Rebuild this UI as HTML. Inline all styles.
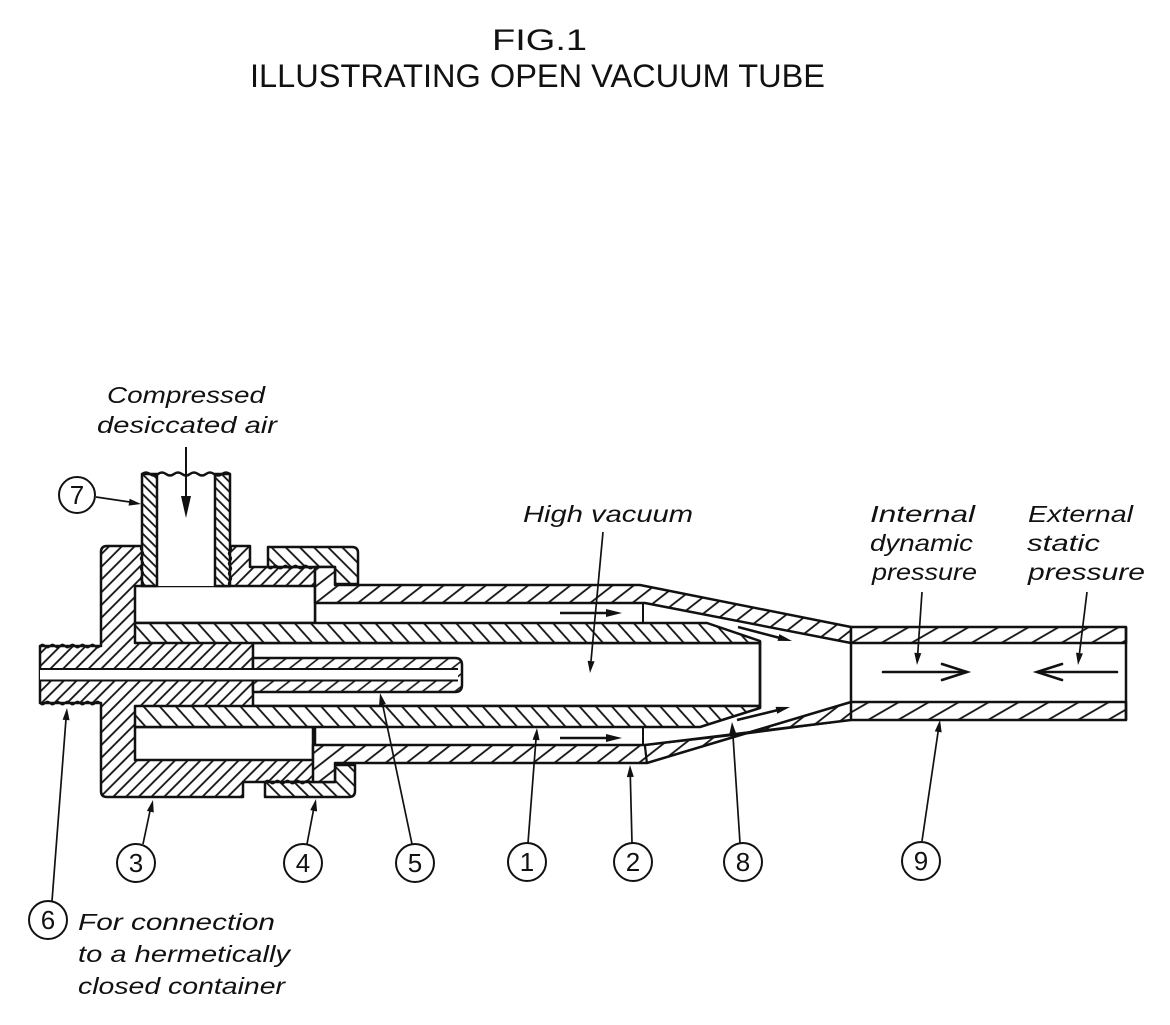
<!DOCTYPE html>
<html>
<head>
<meta charset="utf-8">
<style>
  html,body{margin:0;padding:0;background:#fff;}
  svg{display:block;}
  text{font-family:"Liberation Sans", sans-serif; fill:#111;}
  .lbl{font-style:italic;font-size:23px;}
  .num{font-size:26px;text-anchor:middle;}
</style>
</head>
<body>
<svg width="1170" height="1025" viewBox="0 0 1170 1025" xmlns="http://www.w3.org/2000/svg">
  <defs>
    <pattern id="pF" width="9" height="9" patternUnits="userSpaceOnUse" patternTransform="rotate(45)">
      <rect width="9" height="9" fill="#fff"/>
      <line x1="4.5" y1="0" x2="4.5" y2="9" stroke="#111" stroke-width="1.8"/>
    </pattern>
    <pattern id="p7" width="7" height="7" patternUnits="userSpaceOnUse" patternTransform="rotate(-45)">
      <rect width="7" height="7" fill="#fff"/>
      <line x1="3.5" y1="0" x2="3.5" y2="7" stroke="#111" stroke-width="1.8"/>
    </pattern>
    <pattern id="pN" width="10" height="10" patternUnits="userSpaceOnUse" patternTransform="rotate(-45)">
      <rect width="10" height="10" fill="#fff"/>
      <line x1="5" y1="0" x2="5" y2="10" stroke="#111" stroke-width="1.8"/>
    </pattern>
    <pattern id="p1" width="12" height="12" patternUnits="userSpaceOnUse" patternTransform="rotate(-42)">
      <rect width="12" height="12" fill="#fff"/>
      <line x1="6" y1="0" x2="6" y2="12" stroke="#111" stroke-width="1.8"/>
    </pattern>
    <pattern id="p2" width="13" height="13" patternUnits="userSpaceOnUse" patternTransform="rotate(52)">
      <rect width="13" height="13" fill="#fff"/>
      <line x1="6.5" y1="0" x2="6.5" y2="13" stroke="#111" stroke-width="1.8"/>
    </pattern>
    <pattern id="p5" width="10" height="10" patternUnits="userSpaceOnUse" patternTransform="rotate(52)">
      <rect width="10" height="10" fill="#fff"/>
      <line x1="5" y1="0" x2="5" y2="10" stroke="#111" stroke-width="1.6"/>
    </pattern>
    <pattern id="p9" width="15" height="15" patternUnits="userSpaceOnUse" patternTransform="rotate(60)">
      <rect width="15" height="15" fill="#fff"/>
      <line x1="7.5" y1="0" x2="7.5" y2="15" stroke="#111" stroke-width="1.8"/>
    </pattern>
  </defs>

  <rect width="1170" height="1025" fill="#fff"/>

  <!-- Title -->
  <text x="492" y="50" font-size="30" textLength="95" lengthAdjust="spacingAndGlyphs">FIG.1</text>
  <text x="250" y="87" font-size="32" textLength="575" lengthAdjust="spacingAndGlyphs">ILLUSTRATING OPEN VACUUM TUBE</text>

  <g stroke="#111" stroke-width="2.5" stroke-linejoin="round">
    <!-- Fitting 3 -->
    <path d="M40,646 H101 V552 Q101,546 107,546 H250 V567 H315 V782 H243 V797 H107 Q101,797 101,791 V703 H40 Z" fill="url(#pF)"/>
    <!-- chambers -->
    <rect x="135" y="586" width="180" height="37" fill="#fff"/>
    <rect x="135" y="727" width="178" height="33" fill="#fff"/>
    <!-- cavity inside tube 1 -->
    <rect x="253" y="643" width="507" height="63" fill="#fff"/>
    <!-- tube 1 -->
    <path d="M135,623 H707 L760,641 V643 H135 Z" fill="url(#p1)"/>
    <path d="M135,706 H760 V708 L700,727 H135 Z" fill="url(#p1)"/>
    <line x1="760" y1="641" x2="760" y2="708"/>
    <!-- nozzle 5 -->
    <path d="M253,658 H455 Q462,658 462,665 V685 Q462,692 455,692 H253 Z" fill="url(#p5)"/>
    <!-- bore -->
    <rect x="40" y="669.5" width="418" height="10.5" fill="#fff" stroke="none"/>
    <line x1="40" y1="669" x2="458" y2="669" stroke-width="2"/>
    <line x1="40" y1="680.5" x2="458" y2="680.5" stroke-width="2"/>

    <!-- Tube 7 -->
    <rect x="157" y="474" width="58" height="112" fill="#fff" stroke="none"/>
    <rect x="142" y="474" width="15" height="112" fill="url(#p7)"/>
    <rect x="215" y="474" width="15" height="112" fill="url(#p7)"/>
    <path d="M142,474 q4,-3 8,0 t8,0 t8,0 t8,0 t8,0 t8,0 t8,0 t8,0 t8,0 t8,0 t8,0" fill="none"/>

    <!-- Nut 4 -->
    <path d="M268,547 H352 Q358,547 358,553 V584 H335 V567 H268 Z" fill="url(#pN)"/>
    <path d="M265,782 H335 V765 H355 V791 Q355,797 349,797 H265 Z" fill="url(#pN)"/>

    <!-- Tube 2 upper + taper -->
    <path d="M315,567 H335 V585 H640 L851,627 V643 L645,603 H315 Z" fill="url(#p2)"/>
    <!-- Tube 2 lower straight -->
    <path d="M313,745 H645 L647,763 H335 V782 H313 Z" fill="url(#p2)"/>
    <!-- lower taper crossing -->
    <path d="M645,745 L743,734 L647,763 Z" fill="url(#p2)" stroke-width="2"/>
    <path d="M743,734 L851,702 L851,720 Z" fill="url(#p2)" stroke-width="2"/>
    <line x1="645" y1="745" x2="851" y2="720"/>
    <line x1="647" y1="763" x2="851" y2="702"/>

    <!-- Tube 9 -->
    <rect x="851" y="627" width="275" height="16" fill="url(#p9)"/>
    <rect x="851" y="702" width="275" height="18" fill="url(#p9)"/>
    <line x1="851" y1="643" x2="851" y2="702"/>
    <line x1="1126" y1="627" x2="1126" y2="720"/>

    <!-- annulus end lines -->
    <line x1="643" y1="603" x2="643" y2="623" stroke-width="2"/>
    <line x1="643" y1="727" x2="643" y2="745" stroke-width="2"/>
  </g>

  <!-- threads -->
  <g fill="none" stroke="#111" stroke-width="1.8">
    <path d="M40,646 q2.5,-3 5,0 t5,0 t5,0 t5,0 t5,0 t5,0 t5,0 t5,0 t5,0 t5,0 t5,0 t5,0"/>
    <path d="M40,703 q2.5,3 5,0 t5,0 t5,0 t5,0 t5,0 t5,0 t5,0 t5,0 t5,0 t5,0 t5,0 t5,0"/>
    <path d="M142,546 q-2.5,2.5 0,5 t0,5 t0,5 t0,5 t0,5 t0,5 t0,5 t0,5"/>
    <path d="M230,546 q2.5,2.5 0,5 t0,5 t0,5 t0,5 t0,5 t0,5 t0,5 t0,5"/>
    <path d="M268,567 q2.5,3 5,0 t5,0 t5,0 t5,0 t5,0 t5,0 t5,0 t5,0 t5,0"/>
    <path d="M265,782 q2.5,-3 5,0 t5,0 t5,0 t5,0 t5,0 t5,0 t5,0 t5,0 t5,0"/>
  </g>

  <!-- flow arrows -->
  <g stroke="#111" stroke-width="2.5" fill="#111">
    <line x1="560" y1="613" x2="612" y2="613"/>
    <polygon points="622,613 606,609 606,617" stroke="none"/>
    <line x1="560" y1="738" x2="612" y2="738"/>
    <polygon points="622,738 606,734 606,742" stroke="none"/>
    <line x1="738" y1="627" x2="780" y2="638"/>
    <polygon points="792,641 777.57,640.88 779.33,634.1" stroke="none"/>
    <line x1="737" y1="720" x2="778" y2="710"/>
    <polygon points="790,707 777.24,713.73 775.58,706.93" stroke="none"/>
    <!-- air arrow -->
    <line x1="186" y1="447" x2="186" y2="508" stroke-width="2"/>
    <polygon points="186,518 181,496 191,496" stroke="none"/>
  </g>
  <!-- tube 9 pressure arrows -->
  <g stroke="#111" stroke-width="2.6" fill="none" stroke-linecap="round">
    <line x1="883" y1="672" x2="966" y2="672"/>
    <polyline points="942,664 967,672 942,680"/>
    <line x1="1038" y1="672" x2="1117" y2="672"/>
    <polyline points="1062,664 1037,672 1062,680"/>
  </g>

  <!-- leaders -->
  <g stroke="#111" stroke-width="1.7" fill="#111">
    <line x1="96" y1="497" x2="130" y2="502"/>
    <polygon points="141,504 128.6,505.6 129.6,498.7" stroke="none"/>
    <line x1="52" y1="901" x2="66" y2="719"/>
    <polygon points="67,708 69.56,720.2 62.58,719.7" stroke="none"/>
    <line x1="143" y1="844" x2="150" y2="811"/>
    <polygon points="153,800 153.76,812.49 146.92,810.93" stroke="none"/>
    <line x1="307" y1="844" x2="313.5" y2="810"/>
    <polygon points="316,799 317.08,811.46 310.22,810.08" stroke="none"/>
    <line x1="412" y1="844" x2="382.5" y2="704"/>
    <polygon points="380,693 385.91,704.02 379.07,705.46" stroke="none"/>
    <line x1="528" y1="843" x2="536" y2="739"/>
    <polygon points="537,728 539.55,740.23 532.57,739.69" stroke="none"/>
    <line x1="632" y1="843" x2="630.3" y2="776"/>
    <polygon points="630,765 633.81,776.91 626.81,777.09" stroke="none"/>
    <line x1="740" y1="843" x2="732.8" y2="733"/>
    <polygon points="732,722 736.28,733.74 729.3,734.2" stroke="none"/>
    <line x1="922" y1="841" x2="938.2" y2="731"/>
    <polygon points="940,720 941.69,732.38 934.77,731.36" stroke="none"/>
    <line x1="603" y1="532" x2="591" y2="661"/>
    <polygon points="590,673 587.61,660.73 594.59,661.37" stroke="none"/>
    <line x1="922" y1="592" x2="917.8" y2="653"/>
    <polygon points="917,665 921.31,653.28 914.33,652.8" stroke="none"/>
    <line x1="1087" y1="592" x2="1079.5" y2="653"/>
    <polygon points="1078,665 1082.93,653.52 1075.99,652.66" stroke="none"/>
  </g>

  <!-- circles -->
  <g fill="#fff" stroke="#111" stroke-width="2">
    <circle cx="77" cy="495" r="18"/>
    <circle cx="48" cy="920" r="19"/>
    <circle cx="136" cy="863" r="19"/>
    <circle cx="303" cy="863" r="19"/>
    <circle cx="415" cy="863" r="19"/>
    <circle cx="527" cy="862" r="19"/>
    <circle cx="633" cy="862" r="19"/>
    <circle cx="743" cy="862" r="19"/>
    <circle cx="921" cy="861" r="19"/>
  </g>
  <g>
    <text class="num" x="77" y="504">7</text>
    <text class="num" x="48" y="929">6</text>
    <text class="num" x="136" y="872">3</text>
    <text class="num" x="303" y="872">4</text>
    <text class="num" x="415" y="872">5</text>
    <text class="num" x="527" y="871">1</text>
    <text class="num" x="633" y="871">2</text>
    <text class="num" x="743" y="871">8</text>
    <text class="num" x="921" y="870">9</text>
  </g>

  <!-- labels -->
  <text class="lbl" x="107" y="403" textLength="158" lengthAdjust="spacingAndGlyphs">Compressed</text>
  <text class="lbl" x="97" y="433" textLength="180" lengthAdjust="spacingAndGlyphs">desiccated air</text>
  <text class="lbl" x="523" y="522" textLength="170" lengthAdjust="spacingAndGlyphs">High vacuum</text>
  <text class="lbl" x="870" y="522" textLength="105" lengthAdjust="spacingAndGlyphs">Internal</text>
  <text class="lbl" x="870" y="551" textLength="103" lengthAdjust="spacingAndGlyphs">dynamic</text>
  <text class="lbl" x="872" y="580" textLength="105" lengthAdjust="spacingAndGlyphs">pressure</text>
  <text class="lbl" x="1028" y="522" textLength="105" lengthAdjust="spacingAndGlyphs">External</text>
  <text class="lbl" x="1027" y="551" textLength="73" lengthAdjust="spacingAndGlyphs">static</text>
  <text class="lbl" x="1028" y="580" textLength="117" lengthAdjust="spacingAndGlyphs">pressure</text>
  <text class="lbl" x="78" y="930" textLength="197" lengthAdjust="spacingAndGlyphs">For connection</text>
  <text class="lbl" x="78" y="962" textLength="212" lengthAdjust="spacingAndGlyphs">to a hermetically</text>
  <text class="lbl" x="78" y="994" textLength="207" lengthAdjust="spacingAndGlyphs">closed container</text>
</svg>
</body>
</html>
